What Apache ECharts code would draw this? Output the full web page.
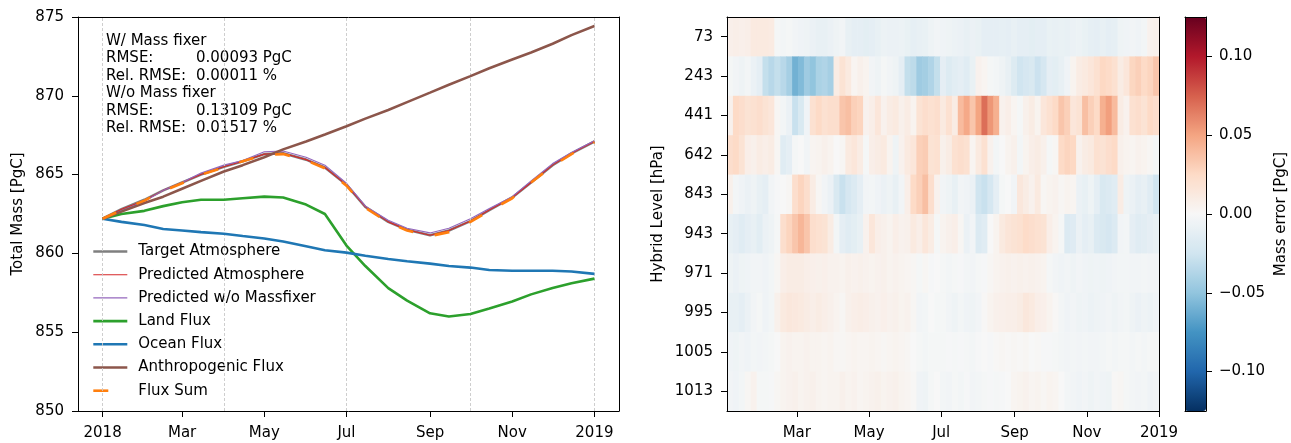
<!DOCTYPE html>
<html><head><meta charset="utf-8">
<script src="https://cdn.jsdelivr.net/npm/echarts@6/dist/echarts.min.js"></script>
<style>html,body{margin:0;padding:0;background:#fff}#c{width:1291px;height:443px}</style>
</head><body><div id="c"></div><script>
// ---------- Left panel data (PgC) ----------
var dates = ['2018-01-01','2018-01-15','2018-02-01','2018-02-15','2018-03-01','2018-03-15','2018-04-01','2018-04-15',
  '2018-05-01','2018-05-15','2018-06-01','2018-06-15','2018-07-01','2018-07-15','2018-08-01','2018-08-15',
  '2018-09-01','2018-09-15','2018-10-01','2018-10-15','2018-11-01','2018-11-15','2018-12-01','2018-12-15','2019-01-01'];
var targetAtmos = [862.2,862.8,863.4,864.0,864.5,865.0,865.5,865.85,866.3,866.35,865.95,865.45,864.35,862.95,862.0,861.5,861.15,861.45,862.05,862.75,863.55,864.5,865.6,866.35,867.1];
var predAtmos   = [862.2,862.8,863.35,864.0,864.5,865.0,865.5,865.85,866.3,866.35,865.95,865.45,864.35,862.95,862.0,861.5,861.15,861.45,862.05,862.75,863.55,864.5,865.6,866.35,867.1];
var predNoFix   = [862.2,862.7,863.3,864.0,864.5,865.1,865.6,865.9,866.45,866.5,866.1,865.6,864.45,863.0,862.1,861.6,861.3,861.6,862.2,862.85,863.6,864.6,865.7,866.4,867.15];
var landFlux    = [862.2,862.5,862.7,863.0,863.25,863.4,863.4,863.5,863.6,863.55,863.1,862.5,860.5,859.2,857.8,857.0,856.2,856.0,856.15,856.5,856.95,857.4,857.8,858.1,858.4];
var oceanFlux   = [862.2,862.0,861.8,861.55,861.45,861.35,861.25,861.1,860.95,860.75,860.45,860.2,860.05,859.85,859.65,859.5,859.35,859.2,859.1,858.95,858.9,858.9,858.9,858.85,858.7];
var anthroFlux  = [862.2,862.65,863.2,863.6,864.1,864.6,865.2,865.6,866.1,866.6,867.1,867.55,868.07,868.55,869.1,869.6,870.2,870.7,871.25,871.75,872.3,872.75,873.3,873.85,874.43];
var fluxSum     = [862.2,862.75,863.35,863.95,864.45,865.0,865.45,865.85,866.25,866.3,865.9,865.4,864.3,862.9,861.95,861.45,861.1,861.35,862.0,862.7,863.5,864.5,865.55,866.3,867.05];

var yTicksLeft = [850,855,860,865,870,875];
var xTickDates = ['2018-01-01','2018-03-01','2018-05-01','2018-07-01','2018-09-01','2018-11-01','2019-01-01'];
var xTickLabels = ['2018','Mar','May','Jul','Sep','Nov','2019'];
var gridDates = ['2018-01-01','2018-04-01','2018-07-01','2018-10-01','2019-01-01'];

// ---------- Right panel data: mass error per level, 5-day bins (PgC) ----------
var levels = ['73','243','441','642','843','943','971','995','1005','1013'];
var binDays = 5;
var err73 = [0.007,0.008,0.007,0.008,0.012,0.012,0.012,0.011,-0.002,-0.003,-0.002,-0.004,-0.005,-0.006,-0.008,-0.01,-0.01,-0.008,
 -0.006,-0.004,-0.01,-0.012,-0.012,-0.013,-0.012,-0.01,-0.007,-0.008,-0.008,-0.007,-0.009,-0.011,-0.01,-0.009,-0.006,-0.004,
 -0.005,-0.006,-0.007,-0.008,-0.01,-0.008,-0.009,-0.012,-0.012,-0.012,-0.011,-0.012,-0.01,-0.012,-0.012,-0.013,-0.012,-0.012,
 -0.009,-0.01,-0.009,-0.01,-0.008,-0.007,-0.009,-0.011,-0.012,-0.01,-0.012,-0.011,-0.006,-0.005,-0.004,-0.005,-0.003,0.005,0.006];
var err243 = [-0.002,-0.004,-0.006,-0.003,-0.008,-0.012,-0.03,-0.035,-0.03,-0.035,-0.042,-0.06,-0.055,-0.045,-0.05,-0.04,-0.038,-0.042,
 0.01,0.018,0.012,0.003,0.006,0.004,-0.004,-0.006,-0.002,-0.004,-0.006,-0.012,-0.03,-0.033,-0.045,-0.043,-0.038,-0.03,
 -0.012,-0.017,-0.014,-0.012,-0.015,-0.009,0.005,0.003,-0.002,-0.003,-0.006,-0.01,-0.017,-0.025,-0.022,-0.02,-0.027,-0.022,
 -0.012,-0.013,-0.01,-0.005,0.004,0.01,0.012,0.015,0.02,0.026,0.024,0.02,0.01,0.015,0.027,0.03,0.025,0.028,0.035];
var err441 = [0.005,0.025,0.022,0.018,0.02,0.022,0.018,0.015,0.002,-0.003,-0.008,-0.028,-0.02,-0.005,0.02,0.025,0.02,0.022,
 0.022,0.035,0.038,0.03,0.028,0.005,0.008,0.015,0.005,0.01,0.012,0.006,0.01,0.004,0.018,0.022,0.02,0.022,
 0.012,0.02,0.01,0.04,0.048,0.035,0.05,0.07,0.055,0.045,0.005,0.008,0.003,-0.002,0.006,0.01,0.004,0.015,
 0.02,0.025,0.035,0.03,0.015,0.018,0.038,0.03,0.025,0.045,0.052,0.04,0.01,0.005,0.02,0.022,0.018,0.025,0.022];
var err642 = [0.022,0.025,0.018,0.008,0.006,0.01,0.008,0.01,0.002,-0.015,-0.012,-0.002,0.0,-0.004,0.003,0.004,0.006,0.004,
 0.0,0.002,0.012,0.015,0.01,-0.002,0.008,0.01,0.012,0.004,-0.006,0.005,0.012,0.015,0.03,0.032,0.018,0.02,
 0.006,0.01,0.02,0.022,0.02,0.003,0.012,0.02,0.005,-0.003,0.0,0.004,0.006,-0.003,0.004,0.008,0.01,0.006,
 -0.002,0.002,0.025,0.028,0.026,0.005,0.01,0.012,0.02,0.018,0.022,0.025,0.006,0.004,0.003,0.005,0.004,0.002,-0.002];
var err843 = [0.006,-0.003,-0.005,-0.008,-0.006,-0.01,-0.012,-0.004,-0.001,0.0,0.002,0.022,0.028,0.022,0.01,0.002,-0.004,-0.008,
 -0.02,-0.028,-0.022,-0.018,-0.012,-0.004,-0.003,-0.005,-0.008,-0.006,-0.01,-0.004,0.008,0.025,0.03,0.038,0.022,0.005,
 -0.004,-0.006,-0.01,-0.004,-0.005,-0.008,-0.025,-0.028,-0.022,-0.012,-0.002,0.0,-0.004,0.014,0.01,0.005,0.012,0.002,
 0.004,0.005,0.002,0.004,0.003,-0.008,-0.01,-0.006,-0.012,-0.02,-0.018,-0.015,0.01,-0.006,-0.008,-0.012,-0.01,-0.015,-0.025];
var err943 = [-0.01,-0.012,-0.015,-0.012,-0.01,-0.014,-0.008,-0.006,-0.002,0.022,0.028,0.035,0.042,0.035,0.022,0.02,0.018,0.01,
 -0.003,-0.012,-0.015,-0.013,-0.01,0.005,0.015,0.008,0.006,0.004,0.008,0.005,0.006,0.012,0.008,0.015,0.01,-0.002,
 0.004,0.006,0.008,0.002,-0.008,-0.004,-0.018,-0.015,0.0,0.004,0.012,0.016,0.018,0.02,0.024,0.022,0.02,0.018,
 0.008,0.004,-0.002,-0.018,-0.016,-0.008,-0.012,-0.01,-0.018,-0.02,-0.022,-0.018,-0.004,-0.003,-0.012,-0.015,-0.014,-0.012,-0.01];
var err971 = [-0.006,-0.008,-0.006,-0.005,-0.004,-0.004,-0.005,-0.003,0.002,0.008,0.01,0.01,0.01,0.008,0.007,0.006,0.007,0.005,
 0.005,0.004,0.006,0.005,0.006,0.005,0.004,0.005,0.006,0.004,0.005,0.004,0.003,0.002,-0.002,0.002,-0.001,0.0,
 -0.002,-0.003,-0.002,-0.001,-0.003,-0.004,-0.002,-0.001,0.002,0.004,0.005,0.006,0.005,0.006,0.005,0.006,0.005,0.004,
 -0.002,-0.004,-0.005,-0.004,-0.006,-0.004,-0.005,-0.006,-0.005,-0.006,-0.005,-0.004,-0.003,-0.003,-0.004,-0.004,-0.003,-0.004,-0.004];
var err995 = [-0.01,-0.01,-0.012,-0.008,-0.004,-0.002,-0.005,-0.003,0.006,0.012,0.014,0.013,0.012,0.01,0.008,0.01,0.008,0.006,
 0.004,0.002,0.006,0.008,0.009,0.008,0.006,0.005,0.007,0.005,0.006,0.004,0.005,0.002,-0.004,-0.003,0.0,-0.002,
 -0.002,-0.004,-0.006,-0.003,-0.005,-0.006,-0.004,0.001,0.004,0.006,0.007,0.008,0.008,0.01,0.014,0.012,0.008,0.007,
 0.004,0.001,-0.003,-0.005,-0.004,-0.006,-0.005,-0.007,-0.006,-0.005,-0.004,-0.006,-0.004,-0.003,-0.006,-0.008,-0.006,-0.007,-0.005];
var err1005 = [-0.005,-0.006,-0.004,-0.005,-0.003,-0.004,-0.003,-0.002,0.0,0.004,0.005,0.004,0.004,0.005,0.004,0.004,0.003,0.004,
 0.002,0.002,0.003,0.004,0.003,0.003,0.004,0.003,0.002,0.003,0.004,0.003,0.002,0.0,-0.002,-0.003,-0.002,-0.002,
 -0.002,-0.001,-0.002,-0.001,-0.002,-0.003,-0.001,0.0,-0.001,0.001,0.002,0.001,0.002,0.001,0.002,0.0,0.001,-0.001,
 -0.001,-0.002,-0.003,-0.004,-0.003,-0.004,-0.003,-0.004,-0.004,-0.003,-0.002,-0.003,-0.002,-0.002,-0.003,-0.002,-0.003,-0.002,-0.002];
var err1013 = [-0.004,-0.005,-0.003,0.002,0.005,-0.002,-0.002,-0.001,0.002,0.004,0.005,0.006,0.004,0.005,0.006,0.004,0.003,0.004,
 0.004,0.006,0.004,0.005,0.003,0.004,0.005,0.006,0.004,0.005,0.006,0.004,0.003,0.001,-0.005,-0.006,-0.002,0.0,
 -0.003,-0.004,-0.002,-0.003,-0.001,-0.004,-0.003,-0.002,-0.001,-0.002,-0.001,0.0,0.003,0.004,0.005,0.003,0.004,0.002,
 0.004,0.003,0.0,-0.003,-0.004,-0.005,-0.004,-0.006,-0.004,-0.005,-0.006,0.001,0.002,-0.002,-0.003,-0.004,-0.003,-0.005,-0.004];
var heatTickDates = ['2018-03-01','2018-05-01','2018-07-01','2018-09-01','2018-11-01','2019-01-01'];
var heatTickLabels = ['Mar','May','Jul','Sep','Nov','2019'];
var cbTicks = [-0.10,-0.05,0.00,0.05,0.10];
var cbMin = -0.125, cbMax = 0.125;
var rdBuR = ['#053061','#2166ac','#4393c3','#92c5de','#d1e5f0','#f7f7f7','#fddbc7','#f4a582','#d6604d','#b2182b','#67001f'];

// ---------- helpers ----------
var T0 = Date.UTC(2018,0,1);
function dayOf(s){ var p = s.split('-'); return (Date.UTC(+p[0], +p[1]-1, +p[2]) - T0) / 864e5; }
var days = dates.map(dayOf);
function pts(arr){ return arr.map(function(v,i){ return [days[i], v]; }); }
var xTickDays = xTickDates.map(dayOf);
var heatTickDays = heatTickDates.map(dayOf);
var yearDays = dayOf('2019-01-01');
var margin = 0.05 * yearDays;

var errRows = [err73, err243, err441, err642, err843, err943, err971, err995, err1005, err1013];
var heatData = [];
errRows.forEach(function(row, r){ row.forEach(function(v, c){ heatData.push([c*binDays, r, v]); }); });

var FONT = 'DejaVu Sans', FS = 15, BLACK = '#000';
var THICK = 2.6, THIN = 1.1;
var FLUX_DASH = [15, 22];
function lineSeries(name, data, color, width, dash, z){
  return { name: name, type: 'line', xAxisIndex: 0, yAxisIndex: 0, data: pts(data), symbol: 'none', showSymbol: false,
    lineStyle: { color: color, width: width, type: dash || 'solid' }, itemStyle: { color: color }, z: z, silent: true, animation: false };
}
function fmtLabel(list, labels){ return function(v){ for (var i=0;i<list.length;i++){ if (Math.abs(list[i]-v) < 1e-6) return labels[i]; } return ''; }; }

var series = [
  lineSeries('Target Atmosphere', targetAtmos, '#7f7f7f', THICK, null, 2),
  lineSeries('Predicted Atmosphere', predAtmos, '#d62728', THIN, null, 3),
  lineSeries('Predicted w/o Massfixer', predNoFix, '#9467bd', THIN, null, 4),
  lineSeries('Land Flux', landFlux, '#2ca02c', THICK, null, 5),
  lineSeries('Ocean Flux', oceanFlux, '#1f77b4', THICK, null, 6),
  lineSeries('Anthropogenic Flux', anthroFlux, '#8c564b', THICK, null, 7),
  lineSeries('Flux Sum', fluxSum, '#ff7f0e', THICK, FLUX_DASH, 8)
];
series[0].markLine = { silent: true, symbol: ['none','none'], label: { show: false },
  lineStyle: { color: '#c8c8c8', type: [3,2], width: 0.9 },
  data: gridDates.map(function(d){ return { xAxis: dayOf(d) }; }) };

series.push({
  type: 'custom', xAxisIndex: 2, yAxisIndex: 2, data: heatData, encode: { x: 0, y: 1 }, silent: true, animation: false,
  renderItem: function(params, api){
    var x0 = api.value(0), r = api.value(1);
    var p0 = api.coord([x0, r]);
    var p1 = api.coord([x0 + binDays, r]);
    var h = api.size([0, 1])[1];
    return { type: 'rect', shape: { x: p0[0], y: p0[1] - h/2, width: p1[0] - p0[0] + 0.6, height: h + 0.6 },
      style: { fill: api.visual('color') } };
  }
});

function plainAxis(extra){
  var a = { axisLine: { show: true, onZero: false, lineStyle: { color: BLACK, width: 1 } },
    axisTick: { show: false }, axisLabel: { show: false }, splitLine: { show: false }, z: 10 };
  for (var k in extra) a[k] = extra[k];
  return a;
}
var tickStyle = { show: true, inside: false, length: 6, lineStyle: { color: BLACK, width: 1 } };
var labelStyle = { color: BLACK, fontFamily: FONT, fontSize: FS };
var legendItems = series.slice(0, 7).map(function(s){
  var ls = { width: s.lineStyle.width };
  if (s.name === 'Flux Sum') ls.type = [15, 40];
  return { name: s.name, lineStyle: ls };
});

var option = {
  animation: false,
  backgroundColor: '#fff',
  textStyle: { fontFamily: FONT, color: BLACK },
  grid: [
    { left: 78, top: 17, width: 541, height: 394, containLabel: false, outerBoundsMode: 'none' },
    { left: 727, top: 17, width: 432, height: 394, containLabel: false, outerBoundsMode: 'none' },
    { left: 1185, top: 17, width: 21, height: 394, containLabel: false, outerBoundsMode: 'none' }
  ],
  xAxis: [
    { gridIndex: 0, type: 'value', min: -margin, max: yearDays + margin, position: 'bottom',
      axisLine: { show: true, onZero: false, lineStyle: { color: BLACK, width: 1 } },
      axisTick: Object.assign({ customValues: xTickDays }, tickStyle),
      axisLabel: Object.assign({ customValues: xTickDays, margin: 15, formatter: fmtLabel(xTickDays, xTickLabels) }, labelStyle),
      splitLine: { show: false }, z: 10 },
    plainAxis({ gridIndex: 0, type: 'value', min: -margin, max: yearDays + margin, position: 'top' }),
    { gridIndex: 1, type: 'value', min: 0, max: yearDays, position: 'bottom',
      axisLine: { show: true, onZero: false, lineStyle: { color: BLACK, width: 1 } },
      axisTick: Object.assign({ customValues: heatTickDays }, tickStyle),
      axisLabel: Object.assign({ customValues: heatTickDays, margin: 15, formatter: fmtLabel(heatTickDays, heatTickLabels) }, labelStyle),
      splitLine: { show: false }, z: 10 },
    plainAxis({ gridIndex: 1, type: 'value', min: 0, max: yearDays, position: 'top' }),
    plainAxis({ gridIndex: 2, type: 'value', min: 0, max: 1, position: 'bottom' }),
    plainAxis({ gridIndex: 2, type: 'value', min: 0, max: 1, position: 'top' })
  ],
  yAxis: [
    { gridIndex: 0, type: 'value', min: yTicksLeft[0], max: yTicksLeft[yTicksLeft.length-1], position: 'left',
      axisLine: { show: true, onZero: false, lineStyle: { color: BLACK, width: 1 } },
      axisTick: Object.assign({ customValues: yTicksLeft }, tickStyle),
      axisLabel: Object.assign({ customValues: yTicksLeft, margin: 14 }, labelStyle),
      splitLine: { show: false },
      name: 'Total Mass [PgC]', nameLocation: 'middle', nameRotate: 90, nameGap: 52,
      nameTextStyle: { fontFamily: FONT, fontSize: FS, color: BLACK }, z: 10 },
    plainAxis({ gridIndex: 0, type: 'value', min: 0, max: 1, position: 'right' }),
    { gridIndex: 1, type: 'category', data: levels, inverse: true, position: 'left',
      axisLine: { show: true, onZero: false, lineStyle: { color: BLACK, width: 1 } },
      axisTick: Object.assign({ alignWithLabel: true }, tickStyle),
      axisLabel: Object.assign({ margin: 14, interval: 0 }, labelStyle),
      splitLine: { show: false },
      name: 'Hybrid Level [hPa]', nameLocation: 'middle', nameRotate: 90, nameGap: 61,
      nameTextStyle: { fontFamily: FONT, fontSize: FS, color: BLACK }, z: 10 },
    plainAxis({ gridIndex: 1, type: 'value', min: 0, max: 1, position: 'right' }),
    { gridIndex: 2, type: 'value', min: cbMin, max: cbMax, position: 'right',
      axisLine: { show: true, onZero: false, lineStyle: { color: BLACK, width: 1 } },
      axisTick: Object.assign({ customValues: cbTicks }, tickStyle),
      axisLabel: Object.assign({ customValues: cbTicks, margin: 13,
        formatter: function(v){ var s = Math.abs(v).toFixed(2); return (v < -1e-9 ? '\u2212' : '') + s; } }, labelStyle),
      splitLine: { show: false },
      name: 'Mass error [PgC]', nameLocation: 'middle', nameRotate: 90, nameGap: 68,
      nameTextStyle: { fontFamily: FONT, fontSize: FS, color: BLACK }, z: 10 },
    plainAxis({ gridIndex: 2, type: 'value', min: 0, max: 1, position: 'left' })
  ],
  visualMap: {
    type: 'continuous', min: cbMin, max: cbMax, seriesIndex: 7, dimension: 2,
    inRange: { color: rdBuR }, orient: 'vertical', left: 1185, top: 17, itemWidth: 21, itemHeight: 394,
    calculable: false, padding: 0, text: null, realtime: false, hoverLink: false, z: 4
  },
  legend: {
    left: 87, top: 239, orient: 'vertical', itemWidth: 34, itemHeight: 14, itemGap: 8.2,
    textStyle: { fontFamily: FONT, fontSize: FS, color: BLACK, padding: [0,0,0,6] },
    itemStyle: { opacity: 0, borderWidth: 0 },
    selectedMode: false,
    data: legendItems
  },
  graphic: [
    { type: 'text', left: 106, top: 32, style: { text: 'W/ Mass fixer\nRMSE:\nRel. RMSE:\nW/o Mass fixer\nRMSE:\nRel. RMSE:', font: FS + 'px "' + FONT + '"', fill: BLACK, lineHeight: 17.5 } },
    { type: 'text', left: 196, top: 32, style: { text: '\n0.00093 PgC\n0.00011 %\n\n0.13109 PgC\n0.01517 %', font: FS + 'px "' + FONT + '"', fill: BLACK, lineHeight: 17.5 } }
  ],
  series: series
};
var chart = echarts.init(document.getElementById('c'), null, { renderer: 'canvas' });
chart.setOption(option);
</script></body></html>
